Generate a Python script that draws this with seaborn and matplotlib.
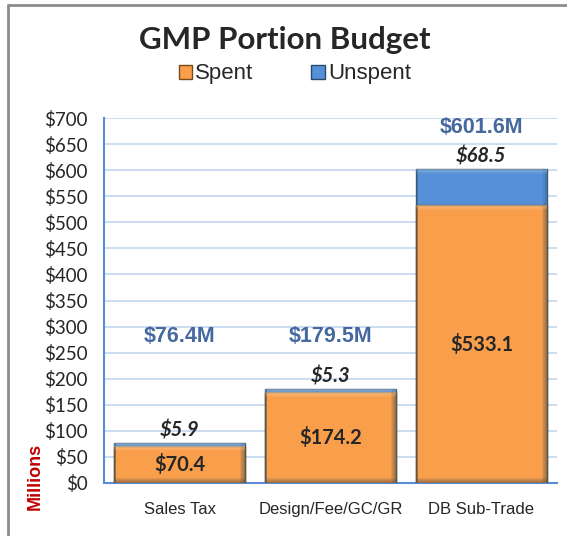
import numpy as np
import pandas as pd
import matplotlib.pyplot as plt
import seaborn as sns
from matplotlib.patches import Rectangle
from matplotlib.lines import Line2D
import matplotlib.colors as mcolors

# chart data
categories = ['Sales Tax', 'Design/Fee/GC/GR', 'DB Sub-Trade']
spent = [70.4, 174.2, 533.1]
unspent = [5.9, 5.3, 68.5]
totals = [76.4, 179.5, 601.6]
y_ticks = list(range(0, 701, 50))
y_tick_labels = [f'${v}' for v in y_ticks]

ORANGE = '#F99F4B'
BLUE = '#5590D8'
AXIS_BLUE = '#5B8DD6'
GRID_BLUE = '#C8DAF0'
TOTAL_COLOR = '#45699F'

df = pd.DataFrame({'category': categories, 'spent': spent, 'unspent': unspent})
df['stack_top'] = df['spent'] + df['unspent']

sns.set_style('white')
plt.rcParams['font.family'] = ['Liberation Sans', 'DejaVu Sans']

fig = plt.figure(figsize=(5.67, 5.36), dpi=100)
ax = fig.add_axes([104 / 567, 1 - 483 / 536, 453 / 567, 365 / 536])

# stacked bars: full height in blue, spent part in orange drawn over it
sns.barplot(data=df, x='category', y='stack_top', color=BLUE, saturation=1,
            width=0.87, edgecolor='#3E5E6E', linewidth=1.0, ax=ax, zorder=3)
sns.barplot(data=df, x='category', y='spent', color=ORANGE, saturation=1,
            width=0.87, edgecolor='#5A5A3A', linewidth=1.0, ax=ax, zorder=3)

ax.set_xlim(-0.5, len(categories) - 0.5)
ax.set_ylim(0, 700)
ax.set_yticks(y_ticks)
ax.set_yticklabels(y_tick_labels, family='Lato', fontsize=13.5)
ax.set_xlabel('')
ax.set_ylabel('')

# category labels on minor ticks, tick marks between categories
ax.set_xticks(np.arange(-0.5, len(categories)), labels=[''] * (len(categories) + 1))
ax.set_xticks(range(len(categories)), labels=categories, minor=True)
ax.tick_params(axis='x', which='minor', length=0, pad=14, labelsize=12)
ax.tick_params(axis='x', which='major', length=6, width=1.3, color=AXIS_BLUE, direction='out')
ax.tick_params(axis='y', length=6, width=1.3, color=AXIS_BLUE, direction='out', pad=6)

ax.grid(axis='y', color=GRID_BLUE, linewidth=1.3, zorder=0)
ax.set_axisbelow(True)
sns.despine(ax=ax)
for side in ['left', 'bottom']:
    ax.spines[side].set_color(AXIS_BLUE)
    ax.spines[side].set_linewidth(1.5)


# soft fake bevel on each bar segment
def bevel(patch):
    x, y = patch.get_x(), patch.get_y()
    w, h = patch.get_width(), patch.get_height()
    if h <= 0:
        return
    base = np.array(mcolors.to_rgb(patch.get_facecolor()))
    dark = base * 0.55
    light = np.clip(base + (1 - base) * 0.5, 0, 1)
    px_x = len(categories) / ax.bbox.width
    px_y = 700 / ax.bbox.height
    n = 5
    for k in range(n):
        a = 0.35 * (1 - k / n)
        ax.add_patch(Rectangle((x, y + k * px_y), w, px_y, color=dark, alpha=a, lw=0, zorder=4))
        ax.add_patch(Rectangle((x + w - (k + 1) * px_x, y), px_x, h, color=dark,
                               alpha=a, lw=0, zorder=4))
        if h > 3 * n * px_y:
            ax.add_patch(Rectangle((x, y + h - (k + 1) * px_y), w, px_y, color=light,
                                   alpha=0.5 * (1 - k / n), lw=0, zorder=4))
    ax.add_patch(Rectangle((x, y), 2 * px_x, h, color=dark, alpha=0.35, lw=0, zorder=4))


for p in list(ax.patches):
    bevel(p)

# value labels
for i, (s, u, t) in enumerate(zip(spent, unspent, totals)):
    ax.text(i, s / 2, f'${s:.1f}', ha='center', va='center', family='Lato',
            fontweight='bold', fontsize=14.5, zorder=6)
    ax.annotate(f'${u:.1f}', (i, s + u), xytext=(0, 2), textcoords='offset points',
                ha='center', va='bottom', family='Lato', fontweight='bold',
                fontstyle='italic', fontsize=14.5, zorder=6)
    # total label floats above the bar, but not lower than ~$280
    ax.text(i, max(280, t + 80), f'${t:.1f}M', ha='center', va='center',
            color=TOTAL_COLOR, fontweight='bold', fontsize=15.5, zorder=6)

fig.text(0.503, 1 - 40 / 536, 'GMP Portion Budget', ha='center', va='center',
         family='Lato', fontweight='bold', fontsize=22.5)

handles = [Rectangle((0, 0), 1, 1, facecolor=ORANGE, edgecolor='#7A4A1A', lw=1),
           Rectangle((0, 0), 1, 1, facecolor=BLUE, edgecolor='#2A4A6A', lw=1)]
fig.legend(handles, ['Spent', 'Unspent'], loc='center', bbox_to_anchor=(0.52, 1 - 74 / 536),
           ncol=2, frameon=False, fontsize=16, handlelength=0.6, handleheight=0.6,
           handletextpad=0.15, columnspacing=2.6)

fig.text(35 / 567, 1 - 476 / 536, 'Millions', rotation=90, ha='center', va='center',
         color='#C00000', fontweight='bold', fontsize=13)

# outer frame (left and top edges)
fig.add_artist(Line2D([8 / 567, 8 / 567], [0, 1 - 5 / 536], color='#8C8C8C', lw=2,
                      transform=fig.transFigure))
fig.add_artist(Line2D([8 / 567, 1], [1 - 5 / 536, 1 - 5 / 536], color='#8C8C8C', lw=2,
                      transform=fig.transFigure))

fig.savefig('out.png', dpi=100)
